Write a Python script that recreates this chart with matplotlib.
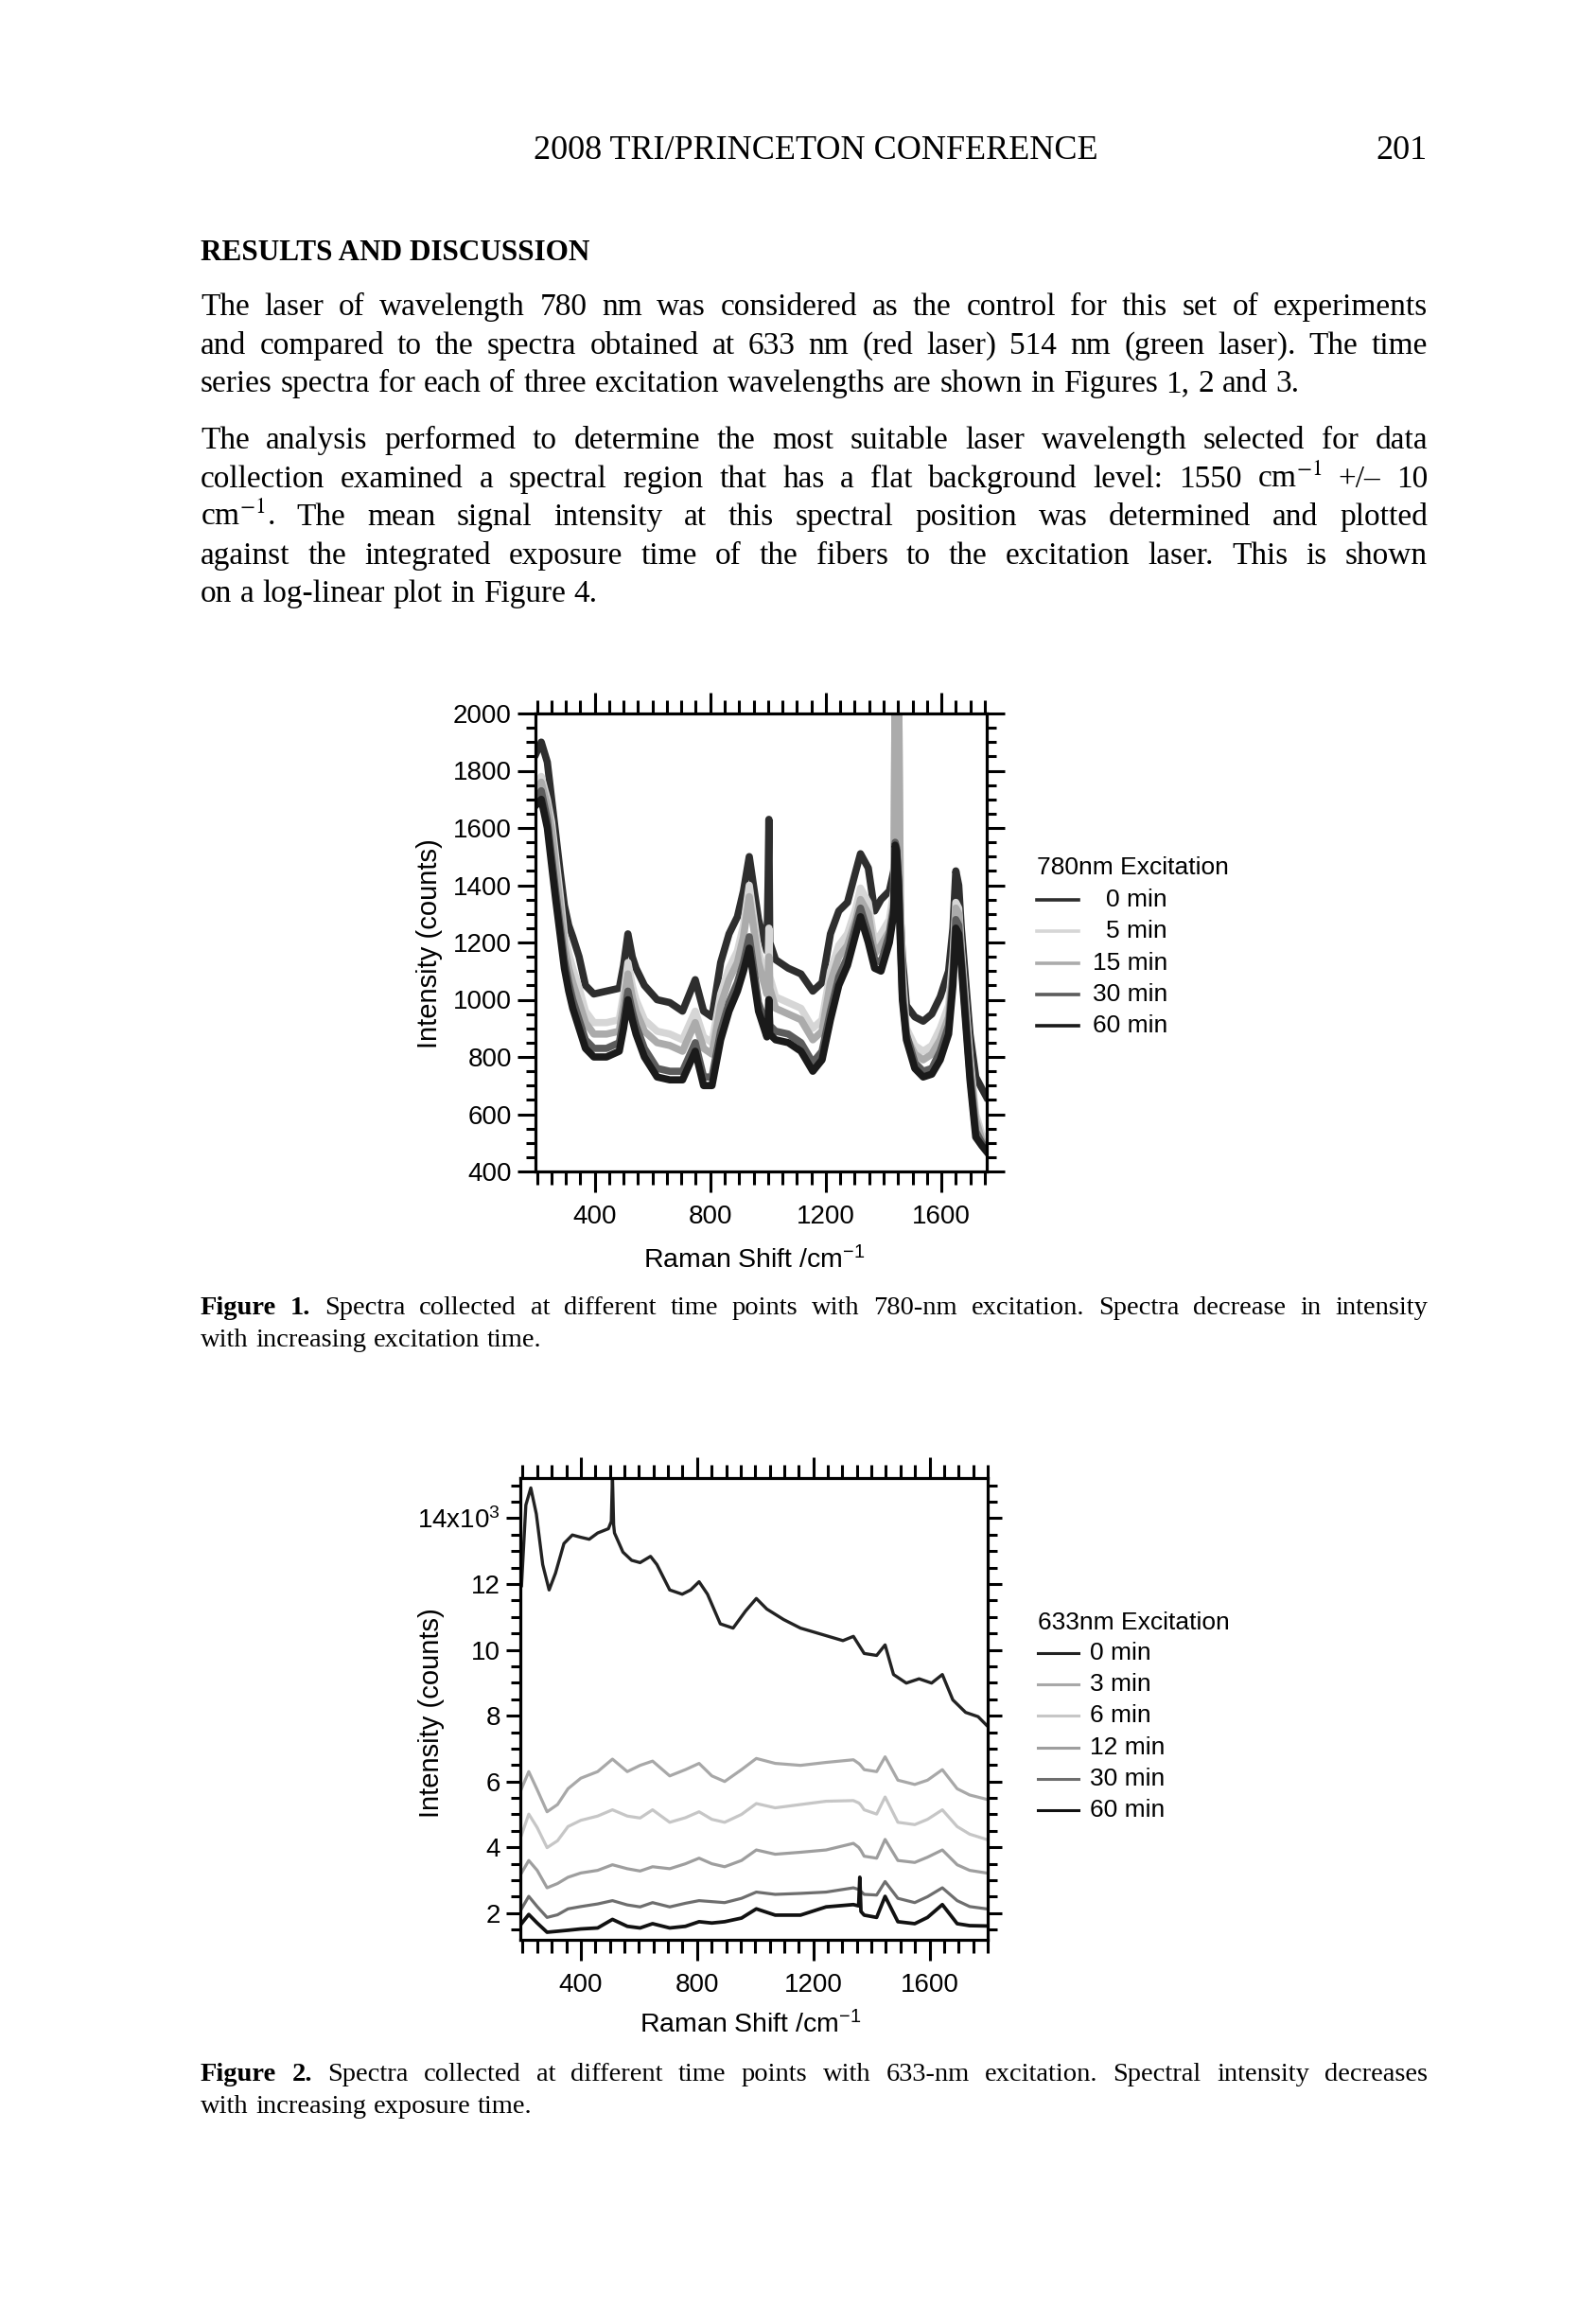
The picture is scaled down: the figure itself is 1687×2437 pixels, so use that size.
import matplotlib
matplotlib.use('Agg')
import matplotlib.pyplot as plt
from matplotlib.lines import Line2D
from matplotlib.ticker import MultipleLocator, FuncFormatter
from matplotlib import font_manager

W, H = 1687, 2437

# ---------------- Figure 1 data: 780 nm excitation ----------------
shift_780 = [197, 215, 236, 251, 265, 280, 295, 310, 324, 346,
             368, 397, 441, 485, 500, 515, 530, 543, 572, 616,
             660, 704, 748, 777, 806, 836, 865, 894, 915, 935,
             967, 996, 1000, 1003, 1006, 1026, 1070, 1114, 1155, 1187,
             1216, 1245, 1275, 1304, 1320, 1347, 1369, 1391, 1420, 1435,
             1440, 1445, 1452, 1458, 1465, 1479, 1508, 1537, 1567, 1596,
             1625, 1640, 1650, 1660, 1669, 1699, 1719, 1740, 1756]
i780_0min = [1860, 1900, 1830, 1700, 1580, 1450, 1330, 1260, 1220, 1150,
             1050, 1020, 1030, 1040, 1120, 1230, 1150, 1110, 1050, 1000,
             990, 960, 1070, 960, 940, 1130, 1230, 1290, 1380, 1500,
             1280, 1170, 1400, 1630, 1200, 1140, 1110, 1090, 1030, 1060,
             1230, 1310, 1340, 1450, 1510, 1460, 1310, 1350, 1380, 1450,
             1560, 1540, 1450, 1300, 1150, 980, 940, 925, 950, 1010,
             1100, 1250, 1450, 1400, 1250, 880, 730, 690, 660]
i780_5min = [1750, 1780, 1700, 1620, 1500, 1370, 1230, 1160, 1110, 1040,
             960, 920, 920, 930, 1020, 1130, 1050, 1000, 930, 890,
             880, 860, 960, 870, 850, 1020, 1110, 1170, 1260, 1400,
             1170, 1060, 1100, 1250, 1080, 1010, 990, 970, 900, 930,
             1100, 1190, 1230, 1320, 1390, 1340, 1200, 1230, 1280, 1380,
             2100, 1600, 2100, 1350, 1100, 900, 840, 820, 840, 900,
             980, 1150, 1340, 1320, 1180, 800, 600, 530, 510]
i780_15min = [1730, 1760, 1680, 1590, 1460, 1330, 1190, 1110, 1060, 990,
              920, 880, 880, 890, 980, 1090, 1010, 960, 890, 850,
              840, 820, 920, 830, 810, 980, 1070, 1130, 1220, 1360,
              1130, 1020, 1060, 1150, 1040, 970, 950, 930, 860, 890,
              1060, 1150, 1190, 1280, 1350, 1300, 1160, 1190, 1240, 1340,
              2100, 1580, 2100, 1320, 1060, 870, 810, 790, 810, 860,
              940, 1110, 1320, 1300, 1160, 780, 580, 510, 490]
i780_30min = [1700, 1730, 1630, 1500, 1380, 1260, 1140, 1060, 1000, 930,
              860, 830, 830, 850, 930, 1030, 960, 910, 830, 760,
              750, 750, 850, 730, 730, 890, 990, 1060, 1130, 1220,
              990, 900, 930, 1000, 910, 890, 880, 850, 780, 820,
              960, 1080, 1150, 1260, 1320, 1230, 1140, 1130, 1230, 1320,
              1550, 1530, 1420, 1220, 1020, 880, 780, 750, 760, 820,
              910, 1080, 1280, 1260, 1140, 740, 540, 500, 480]
i780_60min = [1680, 1700, 1600, 1470, 1350, 1230, 1110, 1030, 970, 900,
              830, 800, 800, 820, 900, 1000, 930, 880, 800, 730,
              720, 720, 820, 700, 700, 860, 960, 1030, 1100, 1180,
              960, 870, 900, 1000, 880, 860, 850, 820, 750, 790,
              930, 1050, 1120, 1230, 1290, 1200, 1110, 1100, 1200, 1300,
              1540, 1520, 1400, 1200, 1000, 860, 760, 730, 740, 790,
              880, 1050, 1250, 1230, 1120, 720, 520, 490, 470]
labels_780 = ['0 min', '5 min', '15 min', '30 min', '60 min']
colors_780 = ['#2e2e2e', '#d6d6d6', '#ababab', '#5c5c5c', '#1a1a1a']

# ---------------- Figure 2 data: 633 nm excitation (x10^3 counts) ----------------
shift_633_top = [196, 211, 228, 247, 269, 291, 313, 342, 371, 400,
                 429, 458, 495, 505, 509, 513, 516, 545, 575, 604,
                 640, 662, 706, 749, 778, 807, 836, 880, 924, 967,
                 1004, 1040, 1098, 1156, 1229, 1302, 1338, 1375, 1418, 1447,
                 1476, 1520, 1564, 1607, 1644, 1680, 1724, 1767, 1796]
i633_0min = [11.95, 14.40, 14.92, 14.13, 12.59, 11.82, 12.33, 13.23, 13.49, 13.42,
             13.36, 13.55, 13.68, 13.90, 15.30, 13.80, 13.55, 12.97, 12.72, 12.65,
             12.84, 12.59, 11.82, 11.69, 11.82, 12.07, 11.69, 10.79, 10.66, 11.18,
             11.56, 11.24, 10.92, 10.66, 10.47, 10.28, 10.41, 9.89, 9.83, 10.15,
             9.25, 8.99, 9.12, 8.99, 9.25, 8.48, 8.10, 7.97, 7.71]
shift_633 = [196, 221, 250, 284, 320, 356, 400, 458, 509, 560,
             604, 647, 706, 760, 807, 851, 895, 953, 1004, 1069,
             1156, 1244, 1338, 1356, 1360, 1364, 1375, 1418, 1447, 1491,
             1549, 1593, 1644, 1695, 1738, 1796]
i633_3min = [5.78, 6.30, 5.75, 5.08, 5.30, 5.78, 6.10, 6.30, 6.68, 6.30,
             6.49, 6.62, 6.17, 6.36, 6.55, 6.17, 6.00, 6.36, 6.70, 6.55,
             6.49, 6.58, 6.66, 6.55, 6.52, 6.48, 6.36, 6.30, 6.75, 6.04,
             5.91, 6.04, 6.36, 5.78, 5.59, 5.46]
i633_6min = [4.37, 5.01, 4.60, 3.99, 4.20, 4.63, 4.82, 4.95, 5.14, 4.95,
             4.89, 5.14, 4.76, 4.90, 5.08, 4.85, 4.76, 5.00, 5.33, 5.20,
             5.30, 5.40, 5.42, 5.35, 5.32, 5.28, 5.14, 5.01, 5.53, 4.76,
             4.69, 4.85, 5.14, 4.63, 4.40, 4.24]
i633_12min = [3.22, 3.60, 3.30, 2.77, 2.90, 3.09, 3.22, 3.30, 3.47, 3.35,
              3.28, 3.41, 3.35, 3.50, 3.67, 3.50, 3.41, 3.60, 3.92, 3.79,
              3.85, 3.92, 4.12, 4.00, 3.95, 3.90, 3.73, 3.67, 4.24, 3.60,
              3.54, 3.70, 3.92, 3.47, 3.30, 3.22]
i633_30min = [2.13, 2.51, 2.20, 1.87, 1.95, 2.13, 2.20, 2.28, 2.38, 2.25,
              2.19, 2.32, 2.19, 2.30, 2.38, 2.35, 2.32, 2.45, 2.64, 2.57,
              2.60, 2.64, 2.77, 2.72, 2.70, 2.66, 2.57, 2.55, 2.96, 2.45,
              2.32, 2.50, 2.77, 2.38, 2.20, 2.13]
i633_60min = [1.68, 1.96, 1.70, 1.42, 1.45, 1.48, 1.52, 1.55, 1.81, 1.60,
              1.55, 1.68, 1.55, 1.60, 1.74, 1.70, 1.74, 1.85, 2.13, 1.94,
              1.94, 2.19, 2.26, 2.22, 3.09, 2.05, 1.94, 1.87, 2.51, 1.74,
              1.68, 1.87, 2.26, 1.68, 1.62, 1.61]
labels_633 = ['0 min', '3 min', '6 min', '12 min', '30 min', '60 min']
colors_633 = ['#222222', '#a8a8a8', '#c6c6c6', '#9e9e9e', '#6e6e6e', '#111111']

# ---------------- page text ----------------
para1 = [
    "The laser of wavelength 780 nm was considered as the control for this set of experiments",
    "and compared to the spectra obtained at 633 nm (red laser) 514 nm (green laser). The time",
    "series spectra for each of three excitation wavelengths are shown in Figures 1, 2 and 3.",
]
para2 = [
    "The analysis performed to determine the most suitable laser wavelength selected for data",
    "collection examined a spectral region that has a flat background level: 1550 cm$^{-1}$ +/\u2013 10",
    "cm$^{-1}$. The mean signal intensity at this spectral position was determined and plotted",
    "against the integrated exposure time of the fibers to the excitation laser. This is shown",
    "on a log-linear plot in Figure 4.",
]
caption1 = [
    "Figure 1. Spectra collected at different time points with 780-nm excitation. Spectra decrease in intensity",
    "with increasing excitation time.",
]
caption2 = [
    "Figure 2. Spectra collected at different time points with 633-nm excitation. Spectral intensity decreases",
    "with increasing exposure time.",
]

names = {f.name for f in font_manager.fontManager.ttflist}
SANS = 'Liberation Sans Narrow' if 'Liberation Sans Narrow' in names else 'Liberation Sans'
SERIF = ['Liberation Serif', 'DejaVu Serif']
plt.rcParams['font.family'] = [SANS, 'Liberation Sans', 'DejaVu Sans']
plt.rcParams['mathtext.fontset'] = 'custom'
plt.rcParams['mathtext.rm'] = SANS
plt.rcParams['mathtext.it'] = SANS
plt.rcParams['mathtext.bf'] = SANS

fig = plt.figure(figsize=(W / 100, H / 100), dpi=100)
renderer = fig.canvas.get_renderer()


def fx(x):
    return x / W


def fy(y):
    return 1 - y / H


def put_line(line, y, size, bold_words=0, justify=True, x0=212, x1=1509):
    words = line.split(' ')
    texts = []
    for i, w in enumerate(words):
        t = fig.text(fx(x0), fy(y), w, fontsize=size, family=SERIF,
                     weight='bold' if i < bold_words else 'normal',
                     ha='left', va='baseline', math_fontfamily='stix')
        texts.append(t)
    widths = [t.get_window_extent(renderer).width for t in texts]
    if justify and len(words) > 1:
        gap = (x1 - x0 - sum(widths)) / (len(words) - 1)
    else:
        gap = size * 100 / 72 * 0.26
    x = x0
    for t, w in zip(texts, widths):
        t.set_x(fx(x))
        x += w + gap


# header
fig.text(fx(862), fy(168), "2008 TRI/PRINCETON CONFERENCE", family=SERIF,
         fontsize=26, ha='center', va='baseline')
fig.text(fx(1508), fy(168), "201", family=SERIF, fontsize=26, ha='right', va='baseline')
fig.text(fx(212), fy(275), "RESULTS AND DISCUSSION", family=SERIF, fontsize=22.5,
         weight='bold', ha='left', va='baseline')

for k, line in enumerate(para1):
    put_line(line, 333 + k * 40.6, 24, justify=(k < len(para1) - 1))
for k, line in enumerate(para2):
    put_line(line, 474 + k * 40.6, 24, justify=(k < len(para2) - 1))
for k, line in enumerate(caption1):
    put_line(line, 1389 + k * 33.8, 20.5, bold_words=2 if k == 0 else 0, justify=(k == 0))
for k, line in enumerate(caption2):
    put_line(line, 2199 + k * 33.8, 20.5, bold_words=2 if k == 0 else 0, justify=(k == 0))


def spectrum_axes(l, t, r, b, xlim, ylim, ymaj, ymin, xlen, ylen):
    ax = fig.add_axes([fx(l), fy(b), (r - l) / W, (b - t) / H])
    ax.set_xlim(*xlim)
    ax.set_ylim(*ylim)
    ax.xaxis.set_major_locator(MultipleLocator(400))
    ax.xaxis.set_minor_locator(MultipleLocator(50))
    ax.yaxis.set_major_locator(MultipleLocator(ymaj))
    ax.yaxis.set_minor_locator(MultipleLocator(ymin))
    for s in ax.spines.values():
        s.set_linewidth(2.3)
    ax.tick_params(which='both', direction='out', top=True, right=True,
                   labeltop=False, labelright=False, width=2.2, labelsize=20)
    ax.xaxis.set_tick_params(which='major', length=xlen[0], pad=9)
    ax.xaxis.set_tick_params(which='minor', length=xlen[1])
    ax.yaxis.set_tick_params(which='major', length=ylen[0], pad=4)
    ax.yaxis.set_tick_params(which='minor', length=ylen[1])
    return ax


# ---------------- Figure 1 ----------------
ax1 = spectrum_axes(566, 754, 1043, 1238, (195, 1757), (400, 2000), 200, 50,
                    (16, 10), (14, 7))
series_780 = [i780_0min, i780_5min, i780_15min, i780_30min, i780_60min]
for ys, c in zip(series_780, colors_780):
    ax1.plot(shift_780, ys, color=c, lw=5.5, solid_joinstyle='round')
fig.text(fx(454), fy(997), "Intensity (counts)", rotation=90, ha='center', va='center', fontsize=21)
fig.text(fx(797), fy(1332), r"Raman Shift /cm$^{-1}$", ha='center', va='center', fontsize=20.5)

fig.text(fx(1096), fy(917), "780nm Excitation", ha='left', va='center', fontsize=19)
for k, (lab, c) in enumerate(zip(labels_780, colors_780)):
    yy = 951 + k * 33.3
    fig.add_artist(Line2D([fx(1096), fx(1140)], [fy(yy), fy(yy)], color=c, lw=2.6,
                          transform=fig.transFigure))
    fig.text(fx(1234), fy(yy), lab, ha='right', va='center', fontsize=19)

# ---------------- Figure 2 ----------------
ax2 = spectrum_axes(550, 1562, 1044, 2050, (192, 1800), (1.19, 15.22), 2, 0.5,
                    (16, 10), (11, 7))
ax2.yaxis.set_major_formatter(FuncFormatter(
    lambda v, p: r"14x10$^{3}$" if abs(v - 14) < 1e-6 else "%d" % round(v)))
ax2.plot(shift_633_top, i633_0min, color=colors_633[0], lw=2.4)
series_633 = [i633_3min, i633_6min, i633_12min, i633_30min, i633_60min]
widths_633 = [2.3, 2.3, 2.3, 2.3, 2.7]
for ys, c, lw in zip(series_633, colors_633[1:], widths_633):
    ax2.plot(shift_633, ys, color=c, lw=lw)
fig.text(fx(456), fy(1810), "Intensity (counts)", rotation=90, ha='center', va='center', fontsize=21)
fig.text(fx(793), fy(2140), r"Raman Shift /cm$^{-1}$", ha='center', va='center', fontsize=20.5)

fig.text(fx(1097), fy(1715), "633nm Excitation", ha='left', va='center', fontsize=19)
for k, (lab, c) in enumerate(zip(labels_633, colors_633)):
    yy = 1747 + k * 33.2
    fig.add_artist(Line2D([fx(1097), fx(1140)], [fy(yy), fy(yy)], color=c, lw=2.2,
                          transform=fig.transFigure))
    fig.text(fx(1152), fy(yy), lab, ha='left', va='center', fontsize=19)

fig.savefig('out.png', dpi=100)
